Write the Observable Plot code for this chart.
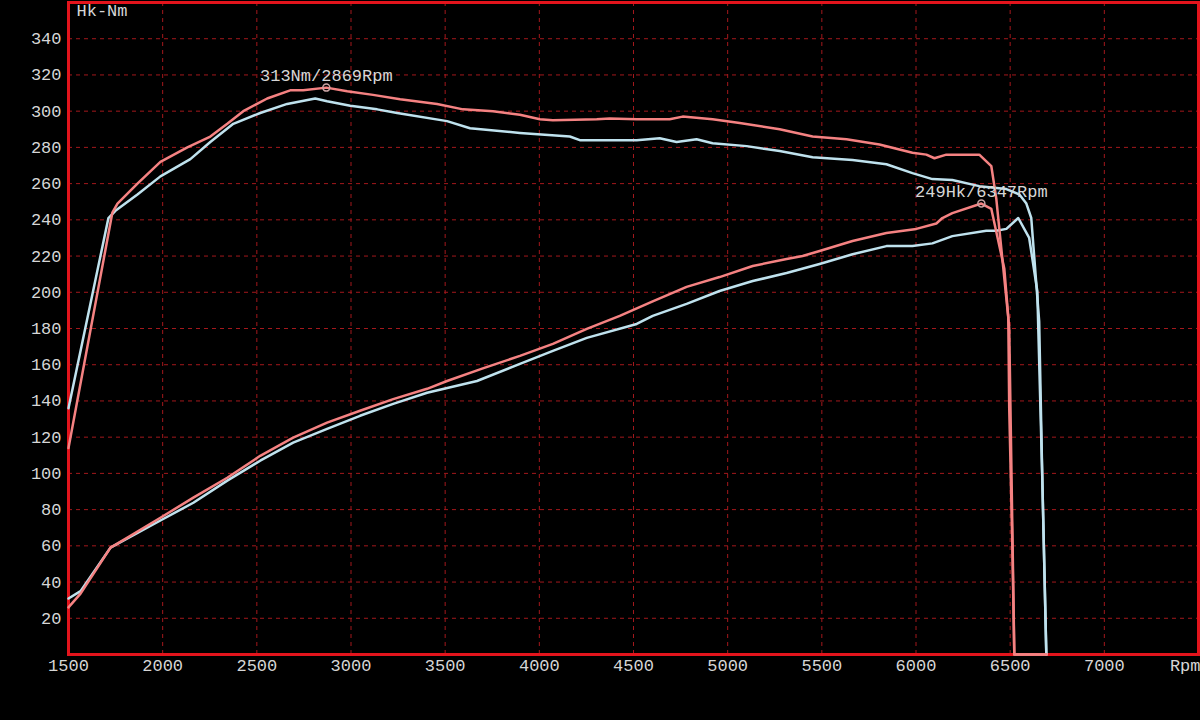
<!DOCTYPE html>
<html>
<head>
<meta charset="utf-8">
<script src="https://cdn.jsdelivr.net/npm/d3@7"></script>
<script src="https://cdn.jsdelivr.net/npm/@observablehq/plot@0.6"></script>
<style>
  html, body { margin: 0; padding: 0; background: #000; }
  #chart { width: 1200px; height: 720px; }
</style>
</head>
<body>
<div id="chart"></div>
<script>
// ---- Data ----
const xTicks = [1500, 2000, 2500, 3000, 3500, 4000, 4500, 5000, 5500, 6000, 6500, 7000];
const yTicks = [20, 40, 60, 80, 100, 120, 140, 160, 180, 200, 220, 240, 260, 280, 300, 320, 340];
const xGrid = [2000, 2500, 3000, 3500, 4000, 4500, 5000, 5500, 6000, 6500, 7000];

// Red run - torque (Nm)
const redTorqueRpm = [1500, 1733, 1760, 1866, 1988, 2131, 2253, 2343, 2428, 2555, 2677, 2746, 2869, 2980, 3117, 3261, 3457, 3595, 3754, 3897, 4003, 4072, 4305, 4374, 4517, 4692, 4761, 4920, 5064, 5276, 5451, 5631, 5806, 5981, 6055, 6098, 6161, 6336, 6400, 6426, 6458, 6490, 6495, 6511, 6522, 6693];
const redTorque    = [114, 244, 249, 260, 272, 280, 286, 293, 300, 307, 311.5, 311.5, 313, 311, 309, 306.6, 304, 301, 300, 298, 295.5, 295, 295.5, 296, 295.5, 295.5, 297, 295.5, 293.5, 290, 286, 284.5, 281.6, 277, 276, 274, 276, 276, 269.6, 252, 219, 186, 136, 63, 0, 0];

// Blue run - torque (Nm)
const blueTorqueRpm = [1500, 1712, 1749, 1866, 1988, 2147, 2253, 2375, 2518, 2661, 2810, 2873, 2996, 3139, 3245, 3510, 3632, 3897, 4162, 4215, 4517, 4639, 4729, 4835, 4920, 5101, 5276, 5451, 5663, 5843, 5981, 6087, 6193, 6336, 6480, 6549, 6586, 6612, 6654, 6670, 6692];
const blueTorque    = [136, 241, 245, 254, 264, 273.5, 283, 293, 299, 304, 307, 305.5, 303, 301, 299, 294.5, 290.6, 288, 286, 284, 284, 285, 283, 284.5, 282.3, 280.7, 278, 274.6, 273, 270.7, 265.8, 262.5, 262, 258.6, 257, 254, 249, 241, 184, 100, 0];

// Red run - power (Hk)
const redPowerRpm = [1500, 1564, 1723, 1813, 1988, 2163, 2343, 2518, 2693, 2873, 3048, 3224, 3404, 3510, 3700, 3897, 4072, 4252, 4427, 4602, 4782, 4957, 5133, 5313, 5398, 5488, 5663, 5843, 6002, 6108, 6140, 6193, 6347, 6400, 6469, 6495, 6522, 6693];
const redPower    = [26, 33.6, 59, 64.5, 75.5, 86.6, 97.6, 109.7, 119.7, 128, 134.6, 141, 146.7, 151, 158, 164.9, 171.5, 179.8, 187, 195, 203, 208.4, 214.5, 218.4, 220, 222.8, 228.3, 232.7, 235, 238, 241, 243.7, 249, 246, 213, 180, 0, 0];

// Blue run - power (Hk)
const bluePowerRpm = [1500, 1564, 1723, 1988, 2163, 2343, 2518, 2693, 2873, 3048, 3224, 3404, 3669, 3897, 4072, 4252, 4517, 4602, 4782, 4957, 5133, 5313, 5488, 5663, 5843, 5981, 6087, 6193, 6373, 6426, 6480, 6543, 6601, 6644, 6670, 6692];
const bluePower    = [30.9, 35, 59, 74, 83.8, 96, 107, 117, 124.6, 131.8, 138.4, 144.5, 151, 160.5, 167.6, 174.8, 182.5, 187, 193.6, 200.7, 206.2, 210.6, 215.6, 221, 225.5, 225.5, 227, 231, 234, 234, 235, 241, 230, 200.7, 100, 0];

// Peak annotations
const peakRpm = [2869, 6347];
const peakValue = [313, 249];
const peakLabel = ["313Nm/2869Rpm", "249Hk/6347Rpm"];

// ---- Build tables ----
const zip = (xs, ys) => xs.map((x, i) => ({rpm: x, v: ys[i]}));
const rt = zip(redTorqueRpm, redTorque);
const bt = zip(blueTorqueRpm, blueTorque);
const rp = zip(redPowerRpm, redPower);
const bp = zip(bluePowerRpm, bluePower);
const peaks = peakRpm.map((x, i) => ({rpm: x, v: peakValue[i], label: peakLabel[i]}));

const RED = "#f58282";
const BLUE = "#bfe2ee";
const TEXT = "#d6d6d6";
const GRID = "#a3181c";
const FRAME = "#e3141c";
const FONT = "'Liberation Mono', 'DejaVu Sans Mono', monospace";

const chart = Plot.plot({
  width: 1200,
  height: 720,
  marginLeft: 68,
  marginRight: 2,
  marginTop: 2,
  marginBottom: 66,
  style: {background: "#000", color: TEXT, fontFamily: FONT, fontSize: "17px"},
  x: {type: "linear", domain: [1500, 7500]},
  y: {type: "linear", domain: [0, 360]},
  marks: [
    Plot.gridY(yTicks, {stroke: GRID, strokeOpacity: 1, strokeWidth: 1, strokeDasharray: "4,4"}),
    Plot.gridX(xGrid, {stroke: GRID, strokeOpacity: 1, strokeWidth: 1, strokeDasharray: "4,4"}),
    Plot.axisY(yTicks, {tickSize: 0, tickPadding: 7, label: null, tickFormat: d => String(d), fill: TEXT, fontSize: 17, fontFamily: FONT}),
    Plot.axisX(xTicks, {tickSize: 0, tickPadding: 4, label: null, tickFormat: d => String(d), fill: TEXT, fontSize: 17, fontFamily: FONT}),
    Plot.frame({stroke: FRAME, strokeWidth: 3}),
    Plot.line(bt, {x: "rpm", y: "v", stroke: BLUE, strokeWidth: 2.5}),
    Plot.line(bp, {x: "rpm", y: "v", stroke: BLUE, strokeWidth: 2.5}),
    Plot.line(rt, {x: "rpm", y: "v", stroke: RED, strokeWidth: 2.5}),
    Plot.line(rp, {x: "rpm", y: "v", stroke: RED, strokeWidth: 2.5}),
    Plot.dot(peaks, {x: "rpm", y: "v", r: 3.5, stroke: "#c9a3a3", strokeWidth: 1.5, fill: "none"}),
    Plot.text(peaks, {x: "rpm", y: "v", text: "label", dy: -12, fill: TEXT, fontSize: 17, fontFamily: FONT, textAnchor: "middle"}),
    Plot.text(["Hk-Nm"], {frameAnchor: "top-left", textAnchor: "start", lineAnchor: "top", dx: 8, dy: 1, fill: TEXT, fontSize: 17, fontFamily: FONT}),
    Plot.text(["Rpm"], {frameAnchor: "bottom-right", textAnchor: "end", lineAnchor: "top", dx: 2, dy: 4, fill: TEXT, fontSize: 17, fontFamily: FONT})
  ]
});
document.getElementById("chart").appendChild(chart);
</script>
</body>
</html>
